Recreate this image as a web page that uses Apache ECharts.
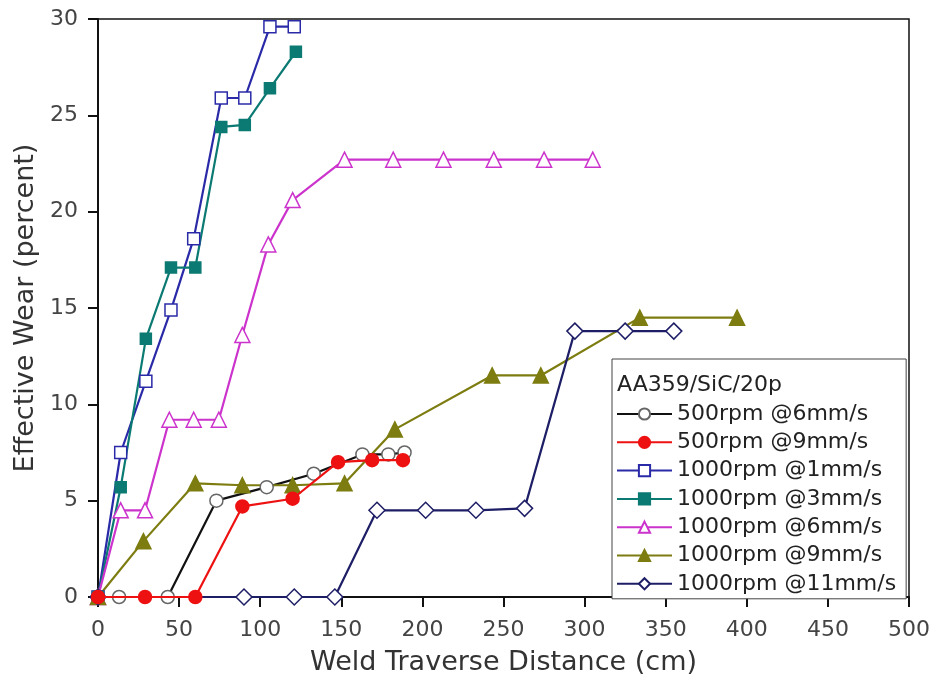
<!DOCTYPE html>
<html>
<head>
<meta charset="utf-8">
<script src="https://cdn.jsdelivr.net/npm/echarts@6/dist/echarts.min.js"></script>
<style>
  html, body { margin: 0; padding: 0; background: #fff; }
  #chart { width: 936px; height: 681px; }
</style>
</head>
<body>
<div id="chart"></div>
<script>
// values
const seriesNames = [
  '500rpm @6mm/s', '500rpm @9mm/s', '1000rpm @1mm/s', '1000rpm @3mm/s',
  '1000rpm @6mm/s', '1000rpm @9mm/s', '1000rpm @11mm/s'
];
const x500at6 = [0, 13, 43, 73, 104, 133, 163, 179, 189];
const y500at6 = [0, 0, 0, 5.0, 5.7, 6.4, 7.4, 7.4, 7.5];
const x500at9 = [0, 29, 60, 89, 120, 148, 169, 188];
const y500at9 = [0, 0, 0, 4.7, 5.1, 7.0, 7.1, 7.1];
const x1000at1 = [0, 14, 29.5, 45, 59, 76, 90.5, 106, 121];
const y1000at1 = [0, 7.5, 11.2, 14.9, 18.6, 25.9, 25.9, 29.6, 29.6];
const x1000at3 = [0, 14, 29.5, 45, 60, 76, 90.5, 106, 122];
const y1000at3 = [0, 5.7, 13.4, 17.1, 17.1, 24.4, 24.5, 26.4, 28.3];
const x1000at6 = [0, 14, 29, 44, 59, 74.5, 89, 105, 120, 152, 182, 213, 244, 275, 305];
const y1000at6 = [0, 4.5, 4.5, 9.2, 9.2, 9.2, 13.6, 18.3, 20.6, 22.7, 22.7, 22.7, 22.7, 22.7, 22.7];
const x1000at9 = [0, 28, 60, 89, 120, 152, 183, 243, 273, 334, 394];
const y1000at9 = [0, 2.9, 5.9, 5.8, 5.8, 5.9, 8.7, 11.5, 11.5, 14.5, 14.5];
const x1000at11 = [0, 90, 121, 146, 172, 202, 233, 263, 294, 325, 355];
const y1000at11 = [0, 0, 0, 0, 4.5, 4.5, 4.5, 4.6, 13.8, 13.8, 13.8];
const xTicks = [0, 50, 100, 150, 200, 250, 300, 350, 400, 450, 500];
const yTicks = [0, 5, 10, 15, 20, 25, 30];

const zip = (xs, ys) => xs.map((x, i) => [x, ys[i]]);

const chart = echarts.init(document.getElementById('chart'));

const mk = (name, xs, ys, color, symbol, size, filled, extra) => Object.assign({
  name: name,
  type: 'line',
  data: zip(xs, ys),
  symbol: symbol,
  symbolSize: size,
  showAllSymbol: true,
  lineStyle: { color: color, width: 2.2 },
  itemStyle: {
    color: filled ? color : '#fff',
    borderColor: color,
    borderWidth: 1.5,
    opacity: 1
  },
  emphasis: { disabled: true },
  animation: false
}, extra || {});

const option = {
  backgroundColor: '#fff',
  animation: false,
  textStyle: { fontFamily: 'DejaVu Sans' },
  grid: {
    left: 98, right: 27, top: 19, bottom: 84,
    show: true, borderColor: '#111', borderWidth: 1.5
  },
  xAxis: {
    type: 'value',
    min: xTicks[0], max: xTicks[xTicks.length - 1], interval: 50,
    name: 'Weld Traverse Distance (cm)',
    nameLocation: 'middle', nameGap: 52,
    nameTextStyle: { fontSize: 27, color: '#333' },
    axisLine: { lineStyle: { color: '#111', width: 2 } },
    axisTick: { inside: false, length: 10, lineStyle: { color: '#111', width: 2 } },
    axisLabel: { fontSize: 22, color: '#444', margin: 22 },
    splitLine: { show: false }
  },
  yAxis: {
    type: 'value',
    min: yTicks[0], max: yTicks[yTicks.length - 1], interval: 5,
    name: 'Effective Wear (percent)',
    nameLocation: 'middle', nameGap: 56, nameRotate: 90,
    nameTextStyle: { fontSize: 27, color: '#333' },
    axisLine: { lineStyle: { color: '#111', width: 2 } },
    axisTick: { inside: false, length: 10, lineStyle: { color: '#111', width: 2 } },
    axisLabel: { fontSize: 22, color: '#444', margin: 20 },
    splitLine: { show: false }
  },
  legend: {
    data: seriesNames,
    orient: 'vertical',
    left: 612, top: 359,
    padding: [44, 10, 4, 4],
    itemWidth: 55, itemHeight: 14, itemGap: 6.3,
    backgroundColor: '#fff',
    borderColor: '#444', borderWidth: 1,
    textStyle: { fontSize: 22, color: '#222', lineHeight: 20 },
    selectedMode: false
  },
  graphic: [{
    type: 'text',
    left: 617, top: 374, z: 100,
    style: { text: 'AA359/SiC/20p', fontSize: 22, fill: '#222', fontFamily: 'DejaVu Sans' }
  }],
  series: [
    mk(seriesNames[0], x500at6, y500at6, '#111111', 'circle', 13, false, { itemStyle: { color: '#fff', borderColor: '#666', borderWidth: 1.5 } }),
    mk(seriesNames[1], x500at9, y500at9, '#ee1111', 'circle', 13, true, { z: 4 }),
    mk(seriesNames[2], x1000at1, y1000at1, '#2a2aa8', 'rect', 12, false),
    mk(seriesNames[3], x1000at3, y1000at3, '#0b7a72', 'rect', 11, true),
    mk(seriesNames[4], x1000at6, y1000at6, '#cc33cc', 'triangle', 15, false),
    mk(seriesNames[5], x1000at9, y1000at9, '#7c7c10', 'triangle', 15, true),
    mk(seriesNames[6], x1000at11, y1000at11, '#1e1e66', 'diamond', 16, false)
  ]
};

chart.setOption(option);
</script>
</body>
</html>
